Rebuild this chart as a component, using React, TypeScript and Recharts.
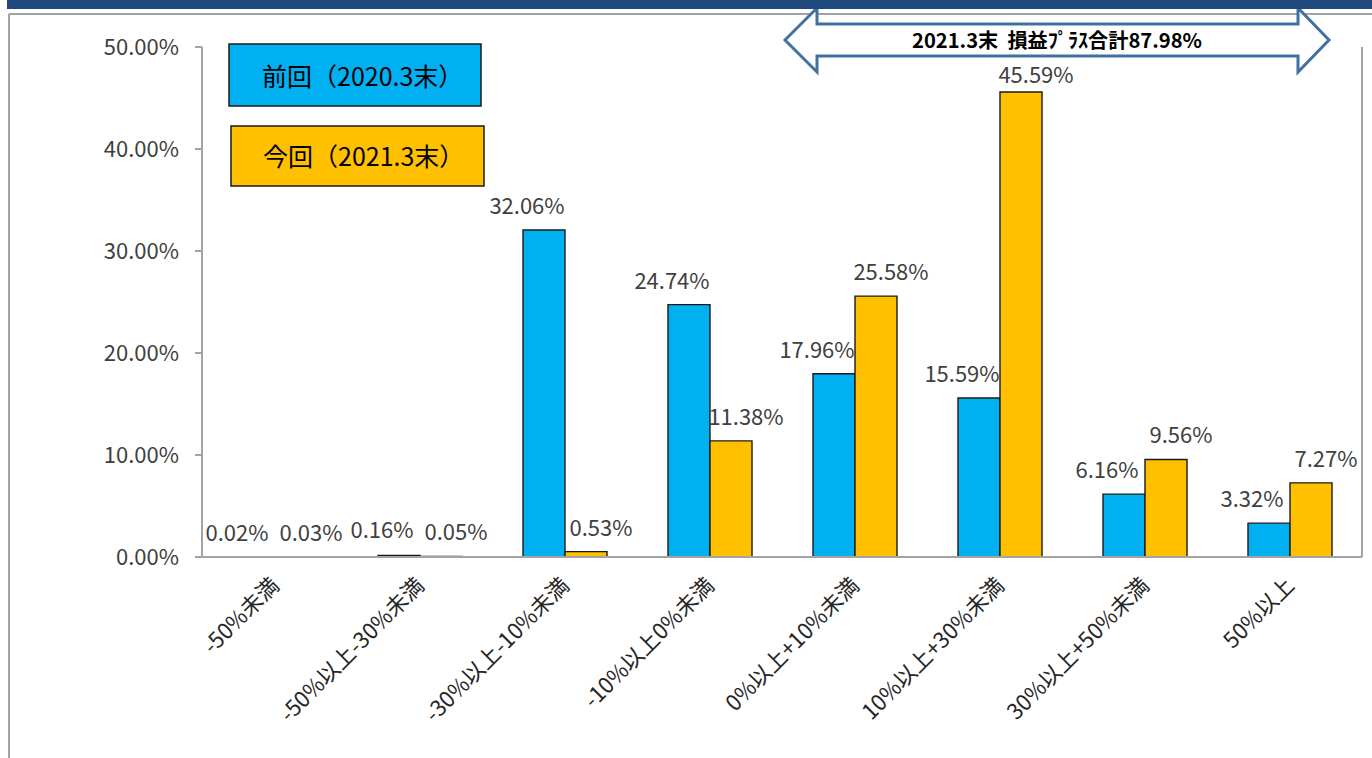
import { BarChart, Bar, XAxis, YAxis, LabelList } from 'recharts'

const categories = [
  '-50%未満',
  '-50%以上-30%未満',
  '-30%以上-10%未満',
  '-10%以上0%未満',
  '0%以上+10%未満',
  '10%以上+30%未満',
  '30%以上+50%未満',
  '50%以上',
]
const prevValues = [0.02, 0.16, 32.06, 24.74, 17.96, 15.59, 6.16, 3.32]
const currValues = [0.03, 0.05, 0.53, 11.38, 25.58, 45.59, 9.56, 7.27]
const leftTicks = [0, 10, 20, 30, 40, 50]
const rightTicks = [0, 1, 2, 3, 4, 5, 6, 7]
const prevName = '前回（2020.3末）'
const currName = '今回（2021.3末）'
const arrowText = '2021.3末  損益ﾌﾟﾗｽ合計87.98%'

// hand-placed label nudges from the original (px, downwards)
const prevLabelDrop = [0, -1, 0, 0, 0, 0, 0, 0]
const currLabelDrop = [0, 0, 0, 0, 0, 7, 0, 0]

const data = categories.map((cat, i) => ({ cat, prev: prevValues[i], curr: currValues[i] }))

const FONT = "'Noto Sans CJK JP', 'Noto Sans', sans-serif"
const BLUE = '#00B0F0'
const ORANGE = '#FFC000'
const AXIS = '#A3A3A3'

// value labels sit a bit off-centre, like the original
function makeLabel(dx: number, drops: number[]) {
  return (props: any) => {
    const { x, y, width, value, index } = props
    const cx = Number(x) + Number(width) / 2 + dx
    const drop = drops[index] ?? 0
    return (
      <text x={cx} y={Number(y) - 16 + drop} textAnchor="middle" fontSize={22} fill="#404040">
        {Number(value).toFixed(2)}%
      </text>
    )
  }
}

function CatTick(props: any) {
  const { x, y, payload } = props
  const ax = Number(x) + 6
  const ay = Number(y) + 22
  return (
    <text
      x={ax}
      y={ay}
      transform={`rotate(-45 ${ax} ${ay})`}
      textAnchor="end"
      fontSize={22}
      fill="#262626"
    >
      {payload.value}
    </text>
  )
}

function Overlay() {
  const arrow = [
    [785, 40], [817, 8], [817, 24], [1298, 24], [1298, 8],
    [1329, 40], [1298, 72], [1298, 56], [817, 56], [817, 72],
  ].map((p) => p.join(',')).join(' ')
  return (
    <svg
      width={1372}
      height={758}
      style={{ position: 'absolute', left: 0, top: 0, pointerEvents: 'none' }}
    >
      {/* frame */}
      <line x1={9} y1={14} x2={1372} y2={14} stroke={AXIS} strokeWidth={2} />
      <line x1={9} y1={14} x2={9} y2={758} stroke={AXIS} strokeWidth={2} />
      <polygon points={arrow} fill="#fff" stroke="#41719C" strokeWidth={3} strokeLinejoin="miter" />
      <text
        x={1057}
        y={48}
        textAnchor="middle"
        fontSize={20}
        fontWeight="bold"
        fill="#000"
        textLength={290}
        lengthAdjust="spacingAndGlyphs"
        style={{ whiteSpace: 'pre' }}
      >
        {arrowText}
      </text>
      <rect x={7} y={0} width={1365} height={9} fill="#1F497D" />

      {/* legend boxes */}
      <rect x={229} y={44} width={252} height={62} fill={BLUE} stroke="#1a1a1a" strokeWidth={1.5} />
      <text x={262} y={86} fontSize={25} fill="#000">{prevName}</text>
      <rect x={231} y={126} width={253} height={60} fill={ORANGE} stroke="#1a1a1a" strokeWidth={1.5} />
      <text x={263} y={166} fontSize={25} fill="#000">{currName}</text>
    </svg>
  )
}

export default function App() {
  return (
    <div
      style={{
        position: 'absolute',
        left: 0,
        top: 0,
        width: 1372,
        height: 758,
        overflow: 'hidden',
        background: '#fff',
        fontFamily: FONT,
      }}
    >
      <BarChart
        width={1372}
        height={758}
        data={data}
        margin={{ top: 47, right: 0, bottom: 0, left: 0 }}
        barGap={0}
        barSize={42}
      >
        <XAxis
          dataKey="cat"
          height={201}
          interval={0}
          tickLine={false}
          axisLine={{ stroke: AXIS, strokeWidth: 2 }}
          tick={<CatTick />}
        />
        <YAxis
          width={202}
          domain={[0, 50]}
          ticks={leftTicks}
          tickSize={7}
          tickMargin={16}
          tickFormatter={(v: number) => `${v.toFixed(2)}%`}
          tick={{ fontSize: 22, fill: '#404040' }}
          axisLine={{ stroke: AXIS, strokeWidth: 2 }}
          tickLine={{ stroke: AXIS, strokeWidth: 2 }}
        />
        <YAxis
          yAxisId="r"
          orientation="right"
          width={10}
          domain={[0, 7.5]}
          ticks={rightTicks}
          tickSize={8}
          tick={() => <g />}
          axisLine={{ stroke: AXIS, strokeWidth: 2 }}
          tickLine={{ stroke: AXIS, strokeWidth: 2 }}
        />
        <Bar dataKey="prev" fill={BLUE} stroke="#1a1a1a" strokeWidth={1.4} isAnimationActive={false}>
          <LabelList dataKey="prev" content={makeLabel(-17, prevLabelDrop)} />
        </Bar>
        <Bar dataKey="curr" fill={ORANGE} stroke="#1a1a1a" strokeWidth={1.4} isAnimationActive={false}>
          <LabelList dataKey="curr" content={makeLabel(15, currLabelDrop)} />
        </Bar>
      </BarChart>
      <Overlay />
    </div>
  )
}
